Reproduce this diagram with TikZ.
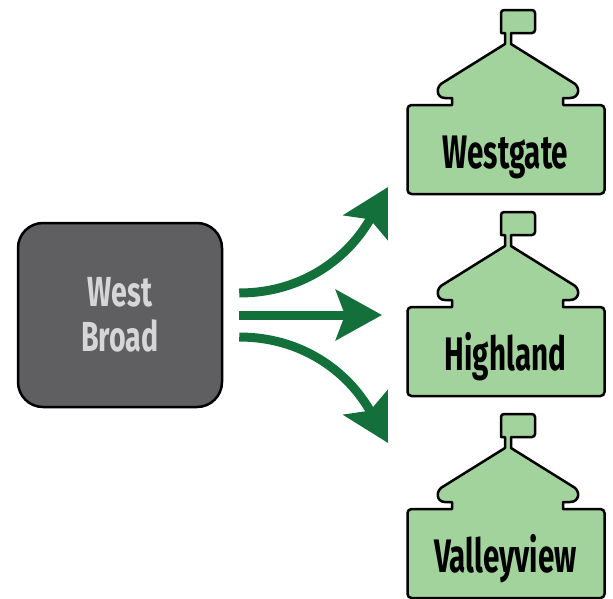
\documentclass[tikz,border=0pt]{standalone}
\usepackage{fontspec}
\setmainfont{Fira Sans}[FakeStretch=0.68]
\newfontfamily\housefont{Fira Sans}[FakeStretch=0.63]
\usetikzlibrary{arrows.meta,calc}
\definecolor{boxgray}{RGB}{95,95,97}
\definecolor{txtgray}{RGB}{214,214,216}
\definecolor{schoolgreen}{RGB}{162,211,157}
\definecolor{arrowgreen}{RGB}{20,112,58}
\tikzset{
  housebody/.style={draw=black, line width=2.5pt, fill=schoolgreen, line join=round},
  housetext/.style={anchor=base, inner sep=0pt, font=\housefont\bfseries\fontsize{47}{50}\selectfont, text=black},
  hubbox/.style={draw=black, line width=2.5pt, fill=boxgray, rounded corners=25pt,
    minimum width=204pt, minimum height=184pt, align=center, text=txtgray,
    font=\bfseries\fontsize{42}{45}\selectfont},
  flow/.style={draw=arrowgreen, line width=9pt, -{Stealth[length=46pt, width=50pt, inset=9pt]}}
}
\newcommand\schoolhouse[2]{%
  \begin{scope}[shift={(#1,#2)}]
    \path[housebody] [rounded corners=4pt] (-54,0) -- (-98.5,0) -- (-98.5,89) -- (98.5,89)
      -- (98.5,0) [sharp corners] -- (57,0) -- (57,-7) -- (64,-7)
      .. controls (74,-7) and (75,-19) .. (66,-23) -- (5,-61) -- (5,-72)
      [rounded corners=3pt] -- (29,-72) -- (29,-95) -- (-5,-95) [sharp corners] -- (-5,-72)
      -- (-1,-72) -- (-1,-61) -- (-62,-23)
      .. controls (-71,-19) and (-70,-7) .. (-61,-7) -- (-54,-7) -- cycle;
  \end{scope}}
\begin{document}
\begin{tikzpicture}[x=1pt, y=-1pt]
  \useasboundingbox (0,0) rectangle (613,598);
  % hub
  \node[hubbox] (wb) at (120,315) {West\\Broad};
  % schools
  \schoolhouse{506}{105}
  \schoolhouse{506}{307}
  \schoolhouse{506}{509}
  \node[housetext] (h1) at (505.5,168) {Westgate};
  \node[housetext] (h2) at (505.5,370) {Highland};
  \node[housetext] (h3) at (505.5,572) {Valleyview};
  % arrow ends
  \coordinate (s1) at ($(wb.east)+(16,-22)$);
  \coordinate (s2) at ($(wb.east)+(16,0)$);
  \coordinate (s3) at ($(wb.east)+(16,22)$);
  \coordinate (t1) at (388,187);
  \coordinate (t2) at (382,315);
  \coordinate (t3) at (388,443);
  \draw[flow] (s1) .. controls ($(s1)+(62,0)$) and (348,259) .. (t1);
  \draw[flow] (s2) -- (t2);
  \draw[flow] (s3) .. controls ($(s3)+(62,0)$) and (348,371) .. (t3);
\end{tikzpicture}
\end{document}
